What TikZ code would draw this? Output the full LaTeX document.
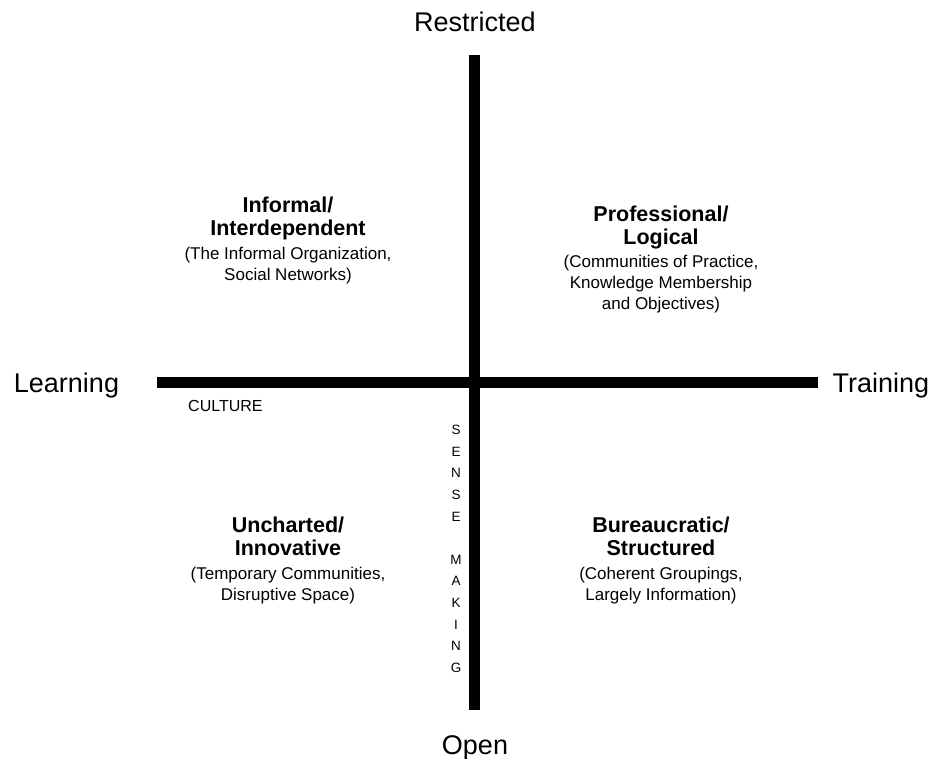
\documentclass[tikz,border=0pt]{standalone}
\usepackage{fontspec}
\setmainfont{Liberation Sans}
\begin{document}
\begin{tikzpicture}[x=1pt,y=-1pt,
  bar/.style={line width=11pt, draw=black},
  biglab/.style={font=\fontsize{27}{30}\selectfont, anchor=base, inner sep=0pt},
  qtitle/.style={font=\bfseries\fontsize{21.5}{24}\selectfont, anchor=base, inner sep=0pt},
  qsub/.style={font=\fontsize{17}{20}\selectfont, anchor=base, inner sep=0pt},
  smallcap/.style={font=\fontsize{16}{19}\selectfont, anchor=base west, inner sep=0pt},
  smletter/.style={font=\fontsize{13.5}{16}\selectfont, anchor=base, inner sep=0pt}]
\useasboundingbox (0,0) rectangle (935,759);
% axes
\coordinate (vt) at (474.5,55);
\coordinate (vb) at (474.5,710);
\coordinate (hl) at (157,382.5);
\coordinate (hr) at (818,382.5);
\draw[bar] (vt) -- (vb);
\draw[bar] (hl) -- (hr);
% axis labels
\node[biglab] (restricted) at (475,32) {Restricted};
\node[biglab] (open) at (475,754) {Open};
\node[biglab] (learning) at (66.5,392) {Learning};
\node[biglab] (training) at (881,392) {Training};
\node[smallcap] (culture) at (188,412) {CULTURE};
% sense making
\foreach \l/\i in {S/0,E/1,N/2,S/3,E/4,M/6,A/7,K/8,I/9,N/10,G/11}
  \node[smletter] (sm\i) at (456,434.75+21.6*\i) {\l};
% top left
\node[qtitle] (ia) at (288,213) {Informal/};
\node[qtitle] (ib) at (288,236) {Interdependent};
\node[qsub] (ic) at (288,260) {(The Informal Organization,};
\node[qsub] (id) at (288,281) {Social Networks)};
% top right
\node[qtitle] (pa) at (661,222) {Professional/};
\node[qtitle] (pb) at (661,245) {Logical};
\node[qsub] (pc) at (661,268) {(Communities of Practice,};
\node[qsub] (pd) at (661,289) {Knowledge Membership};
\node[qsub] (pe) at (661,310) {and Objectives)};
% bottom left
\node[qtitle] (ua) at (288,532) {Uncharted/};
\node[qtitle] (ub) at (288,555) {Innovative};
\node[qsub] (uc) at (288,579) {(Temporary Communities,};
\node[qsub] (ud) at (288,600) {Disruptive Space)};
% bottom right
\node[qtitle] (ba) at (661,532) {Bureaucratic/};
\node[qtitle] (bb) at (661,555) {Structured};
\node[qsub] (bc) at (661,579) {(Coherent Groupings,};
\node[qsub] (bd) at (661,600) {Largely Information)};
\end{tikzpicture}
\end{document}
